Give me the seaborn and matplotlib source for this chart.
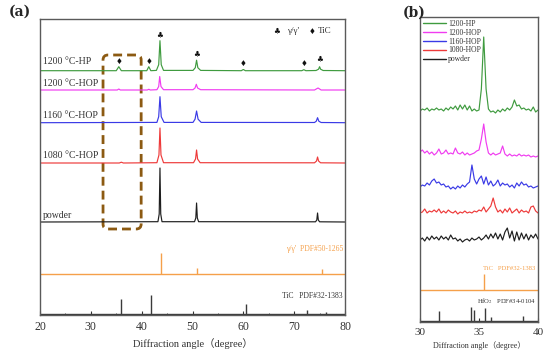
import numpy as np
import pandas as pd
import matplotlib
matplotlib.use("Agg")
import matplotlib.pyplot as plt
from matplotlib.patches import FancyBboxPatch
from matplotlib.ticker import MultipleLocator
import seaborn as sns

sns.set_style("ticks")
plt.rcParams['font.family'] = ['Liberation Serif', 'Noto Sans CJK SC', 'DejaVu Sans']
plt.rcParams['mathtext.fontset'] = 'stix'

# ---------------- Panel (a) data: full-range XRD patterns ----------------
A_NAMES = ["1200 °C-HP", "1200 °C-HOP", "1160 °C-HOP", "1080 °C-HOP", "powder"]
A_COLORS = ["#3f9b3f", "#f03cf0", "#3a3ae6", "#ee3a3a", "#1e1e1e"]

hp_x = [20, 35.0, 35.5, 36.0, 41.0, 41.4, 41.8, 42.9, 43.35, 43.6, 43.85, 44.3,
        50.1, 50.55, 50.8, 51.05, 51.6, 59.6, 60.0, 60.4, 71.5, 71.9, 72.3,
        74.3, 74.8, 75.0, 75.2, 75.7, 80]
hp_y = [0, 0, 4, 0, 0, 4, 0, 0.3, 6, 30, 6, 0.3,
        0.3, 3, 10.5, 3, 0.3, 0, 1.2, 0, 0, 1, 0,
        0.2, 1.5, 4, 1.5, 0.2, 0]

hop1200_x = [20, 35.2, 35.5, 35.8, 41.1, 41.4, 41.7, 43.0, 43.35, 43.55, 43.8, 44.3,
             50.1, 50.5, 50.75, 51.0, 51.6, 74.0, 74.7, 75.3, 80]
hop1200_y = [0, 0, 1, 0, 0, 0.7, 0, 0.3, 3.5, 13.5, 3.5, 0.3,
             0.3, 2, 5.7, 2, 0.3, 0, 2, 0, 0]

hop1160_x = [20, 43.0, 43.35, 43.6, 43.85, 44.4, 50.1, 50.5, 50.8, 51.1, 51.7,
             74.0, 74.35, 74.6, 74.85, 75.3, 80]
hop1160_y = [0, 0.3, 6, 26, 6, 0.3, 0.3, 3.5, 11.7, 3.5, 0.3,
             0.2, 1.5, 5, 1.5, 0.2, 0]

hop1080_x = [20, 35.6, 36.0, 36.4, 43.0, 43.4, 43.6, 43.8, 44.3, 50.2, 50.6, 50.8, 51.0, 51.5,
             74.0, 74.4, 74.6, 74.8, 75.2, 80]
hop1080_y = [0, 0, 0.8, 0, 0.3, 8, 35, 8, 0.3, 0.3, 4, 13, 4, 0.3,
             0.2, 2, 6, 2, 0.2, 0]

powder_x = [20, 43.2, 43.45, 43.6, 43.75, 44.0, 50.4, 50.65, 50.8, 50.95, 51.2,
            74.2, 74.45, 74.6, 74.75, 75.0, 80]
powder_y = [0, 0.3, 8, 54, 8, 0.3, 0.3, 4, 19, 4, 0.3,
            0.2, 2, 9, 2, 0.2, 0]

A_X = [hp_x, hop1200_x, hop1160_x, hop1080_x, powder_x]
A_Y = [hp_y, hop1200_y, hop1160_y, hop1080_y, powder_y]
A_OFFSETS = [244.3, 225, 192.3, 152, 93]
A_LABEL_Y = [253, 232, 199, 159, 99]

# reference stick patterns (a)
gp_pos = [43.9, 50.8, 75.4]          # gamma/gamma' PDF#50-1265
gp_int = [21, 6, 5]
tic_pos = [35.9, 41.8, 60.5, 72.5, 76.2]   # TiC PDF#32-1383
tic_int = [15, 19, 10, 4, 2]

# phase markers (a)
club_pos = [43.6, 50.8, 75.0]
club_y = [280, 261, 256]
diam_pos = [35.5, 41.4, 60.0, 71.9]
diam_y = [253, 253, 251, 251]

# ---------------- Panel (b) data: 30-40 degree zoom ----------------
B_NAMES = ["1200-HP", "1200-HOP", "1160-HOP", "1080-HOP", "powder"]
B_X = [30.0, 30.2, 30.4, 30.6, 30.8, 31.0, 31.2, 31.4, 31.6, 31.8,
       32.0, 32.2, 32.4, 32.6, 32.8, 33.0, 33.2, 33.4, 33.6, 33.8,
       34.0, 34.2, 34.4, 34.6, 34.8, 35.0, 35.2, 35.4, 35.6, 35.8,
       36.0, 36.2, 36.4, 36.6, 36.8, 37.0, 37.2, 37.4, 37.6, 37.8,
       38.0, 38.2, 38.4, 38.6, 38.8, 39.0, 39.2, 39.4, 39.6, 39.8, 40.0]
b_hp = [0, 2, 1, 3, 0, 2, 1, 3, 1, 2,
        0, 3, 1, 4, 2, 5, 1, 6, 2, 6,
        1, 5, 0, 2, 0, 1, 22, 74, 22, 2,
        -1, 0, -2, 1, -1, 2, 0, 3, 1, 4,
        11, 5, 6, 2, 3, 1, 2, 0, 4, -1, 1]
b_hop1200 = [2, 4, 1, 3, 0, 2, -1, 1, 5, 0,
             1, 4, 0, 1, 0, 6, 1, 0, 2, -1,
             1, -1, 0, 1, 3, 4, 15, 30, 12, 1,
             -1, 1, -1, 0, 1, 8, 0, -2, 0, -2,
             -1, -2, 0, -2, -1, -2, -1, -3, -2, -3, -2]
b_hop1160 = [0, 2, 1, 4, 2, 6, 8, 4, 5, 2,
             3, 0, 1, -2, 0, -2, 1, -1, 2, 0,
             3, 5, 22, 8, 3, 8, 11, 3, 10, 2,
             6, 1, 3, 7, 1, 4, 2, 3, 0, 2,
             -1, 4, 1, 5, 2, 3, 0, 1, -1, 0, 1]
b_hop1080 = [0, 1, 4, 0, 2, 1, 3, 1, 4, 0,
             2, 0, 3, 1, 0, 2, -1, 1, 0, 2,
             0, 1, 0, 2, 1, 3, 2, 6, 1, 4,
             7, 15, 6, 1, 3, 0, 4, 1, 5, 0,
             2, 4, 0, 3, 1, 2, 0, 6, 7, 2, 0]
b_powder = [0, 2, -1, 3, 0, 4, 1, 3, 0, 4,
            1, 3, 0, 5, 1, 2, -1, 1, -2, 0,
            1, -1, 2, 0, 1, 3, 0, 2, 5, 1,
            6, 2, 7, 1, 6, 0, 8, 12, 2, 9,
            -1, 8, 0, 7, 1, 6, 0, 5, 2, 6, 1]
B_Y = [b_hp, b_hop1200, b_hop1160, b_hop1080, b_powder]
B_OFFSETS = [211, 168, 135, 109, 82]

b_tic_pos = [35.4]
b_tic_int = [16]
hfo2_pos = [31.65, 34.3, 34.6, 35.5, 36.0, 38.7]
hfo2_int = [10, 14, 11, 13, 4, 5]

ORANGE = "#f5a04a"
SPINE = "#5a5a5a"
TXT = "#333333"

# ---------------- figure ----------------
fig = plt.figure(figsize=(5.5, 3.55), dpi=100)
axa = fig.add_axes([40/550, 1-315/355, 305/550, 296/355])
axb = fig.add_axes([420/550, 1-322/355, 118/550, 305/355])

# panel (a) patterns via seaborn
rows = []
for name, xs, ys, off in zip(A_NAMES, A_X, A_Y, A_OFFSETS):
    for xv, yv in zip(xs, ys):
        rows.append({"angle": xv, "I": yv + off, "sample": name})
dfa = pd.DataFrame(rows)
sns.lineplot(data=dfa, x="angle", y="I", hue="sample", hue_order=A_NAMES,
             palette=A_COLORS, estimator=None, sort=False, lw=0.85, ax=axa, legend=False)

axa.hlines(41, 20, 80, color=ORANGE, lw=1.0)
axa.vlines(gp_pos, 41, [41 + v for v in gp_int], color=ORANGE, lw=1.0)
axa.hlines(1.5, 20, 80, color="#3a3a3a", lw=1.0)
axa.vlines(tic_pos, 1.5, [1.5 + v for v in tic_int], color="#3a3a3a", lw=1.0)

for name, ly in zip(A_NAMES, A_LABEL_Y):
    axa.text(20.6, ly, name, fontsize=7, color=TXT, ha="left", va="center")
for p, y in zip(club_pos, club_y):
    axa.text(p, y, "♣", fontsize=5.5, ha="center", va="center", color="#111111",
             family=['DejaVu Sans'])
for p, y in zip(diam_pos, diam_y):
    axa.text(p, y, "♦", fontsize=5.5, ha="center", va="center", color="#111111",
             family=['DejaVu Sans'])
axa.text(66.6, 284, "♣", fontsize=5.5, ha="center", va="center", color="#111111", family=['DejaVu Sans'])
axa.text(68.6, 284, "γ/γ'", fontsize=6.5, ha="left", va="center", color=TXT)
axa.text(73.5, 284, "♦", fontsize=5.5, ha="center", va="center", color="#111111", family=['DejaVu Sans'])
axa.text(74.7, 284, "TiC", fontsize=6.5, ha="left", va="center", color=TXT)
axa.text(79.6, 66, "γ/γ'  PDF#50-1265", fontsize=5.5, ha="right", va="center", color=ORANGE)
axa.text(79.6, 19, "TiC   PDF#32-1383", fontsize=5.5, ha="right", va="center", color=TXT)

box = FancyBboxPatch((32.4, 86), 7.5, 174, boxstyle="round,pad=0,rounding_size=1.0",
                     mutation_aspect=5.0, fill=False, ec="#8c5a12", lw=2.0,
                     ls=(0, (3.2, 1.8)))
axa.add_patch(box)

axa.set_xlim(20, 80)
axa.set_ylim(0, 296)
axa.set_yticks([])
axa.xaxis.set_major_locator(MultipleLocator(10))
axa.xaxis.set_minor_locator(MultipleLocator(5))
axa.tick_params(axis="x", which="major", direction="in", length=3, width=0.8,
                labelsize=8.5, colors=TXT, pad=4)
axa.tick_params(axis="x", which="minor", direction="in", length=1.8, width=0.6, colors=TXT)
axa.set_xlabel("Diffraction angle（degree）", fontsize=7.5, color=TXT, labelpad=4)
axa.set_ylabel("")
for s in axa.spines.values():
    s.set_color(SPINE)
    s.set_linewidth(1.0)
    s.set_visible(True)

# panel (b) patterns via seaborn
rows = []
for name, ys, off in zip(B_NAMES, B_Y, B_OFFSETS):
    for xv, yv in zip(B_X, ys):
        rows.append({"angle": xv, "I": yv + off, "sample": name})
dfb = pd.DataFrame(rows)
sns.lineplot(data=dfb, x="angle", y="I", hue="sample", hue_order=B_NAMES,
             palette=A_COLORS, estimator=None, sort=False, lw=0.85, ax=axb)

axb.hlines(32, 30, 40, color=ORANGE, lw=1.0)
axb.vlines(b_tic_pos, 32, [32 + v for v in b_tic_int], color=ORANGE, lw=1.0)
axb.hlines(1.2, 30, 40, color="#3a3a3a", lw=1.0)
axb.vlines(hfo2_pos, 1.2, [1.2 + v for v in hfo2_int], color="#3a3a3a", lw=1.0)
axb.text(39.8, 53, "TiC   PDF#32-1383", fontsize=4.8, ha="right", va="center", color=ORANGE)
axb.text(39.8, 21, r"HfO$_2$   PDF#34-0104", fontsize=4.8, ha="right", va="center", color=TXT)

leg = axb.legend(loc="upper left", frameon=False, fontsize=5.5, handlelength=3.0,
                 handletextpad=0.3, labelspacing=0.12, borderaxespad=0.15,
                 borderpad=0.2)
for t in leg.get_texts():
    t.set_color(TXT)
for l in leg.get_lines():
    l.set_linewidth(1.0)

axb.set_xlim(30, 40)
axb.set_ylim(0, 305)
axb.set_yticks([])
axb.set_xticks([30, 35, 40])
axb.tick_params(axis="x", direction="in", length=3, width=0.8, labelsize=8, colors=TXT, pad=4)
axb.set_xlabel("Diffraction angle（degree）", fontsize=5.8, color=TXT, labelpad=3)
axb.set_ylabel("")
for s in axb.spines.values():
    s.set_color(SPINE)
    s.set_linewidth(1.0)
    s.set_visible(True)

fig.text(20/550, 1-12/355, "(a)", fontsize=10, fontweight="bold", ha="center", va="center",
         family=['DejaVu Serif'])
fig.text(414/550, 1-13/355, "(b)", fontsize=10, fontweight="bold", ha="center", va="center",
         family=['DejaVu Serif'])

fig.savefig("out.png", dpi=100)
